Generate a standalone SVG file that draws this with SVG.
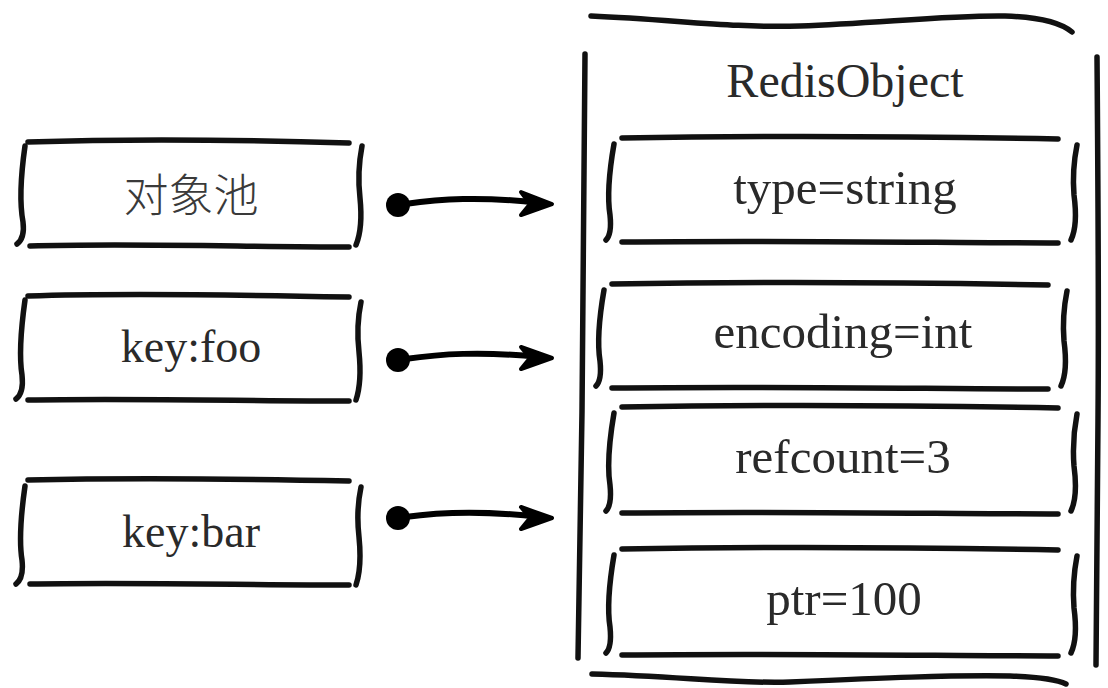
<svg xmlns="http://www.w3.org/2000/svg" width="1108" height="688" viewBox="0 0 1108 688">
<style>
.ln{fill:none;stroke:#111;stroke-width:5.5;stroke-linecap:round;stroke-linejoin:round}
.ar{fill:none;stroke:#000;stroke-width:6;stroke-linecap:round;stroke-linejoin:round}
.hd{fill:#000;stroke:#000;stroke-width:4;stroke-linejoin:round}
.t{font-family:"Liberation Serif","Noto Sans CJK SC",serif;fill:#2a2a2a;text-anchor:middle}
.cn{font-family:"Noto Sans CJK SC",sans-serif;fill:#3a3a3a;text-anchor:middle;font-weight:300}
.dot{fill:#000}
</style>
<rect width="1108" height="688" fill="#fff"/>
<g id="node-pool">
<path class="ln" d="M28,142 C120,139 250,140 349,143"/>
<path class="ln" d="M30,246 C130,243 250,247 349,247"/>
<path class="ln" d="M25,146 Q18,195 23,222 Q25,238 17,244"/>
<path class="ln" d="M362,146 Q357,172 360,198 Q363,228 356,245"/>
<text class="cn" x="191" y="212" font-size="45">对象池</text>
</g>
<g id="node-foo">
<path class="ln" d="M28,296 C120,293 250,295 349,297"/>
<path class="ln" d="M28,400 C130,398 250,401 349,401"/>
<path class="ln" d="M25,300 Q18,350 22,375 Q24,393 16,399"/>
<path class="ln" d="M361,302 Q356,326 359,352 Q362,382 356,400"/>
<text class="t" x="191" y="362" font-size="46">key:foo</text>
</g>
<g id="node-bar">
<path class="ln" d="M28,480 C120,478 250,479 349,481"/>
<path class="ln" d="M30,584 C130,582 250,585 349,585"/>
<path class="ln" d="M25,486 Q18,535 22,560 Q24,578 16,584"/>
<path class="ln" d="M361,487 Q356,511 359,537 Q362,567 356,585"/>
<text class="t" x="191" y="547" font-size="46">key:bar</text>
</g>
<g id="node-redisobject">
<path class="ln" d="M591,16 C680,20 730,28 800,26 C880,23 950,15 1005,16 C1040,17 1060,22 1072,32"/>
<path class="ln" d="M592,674 C680,676 730,684 790,682 C880,678 950,675 1010,676 C1040,677 1058,680 1066,684"/>
<path class="ln" d="M585,54 Q583,300 582,412 Q580,550 578,658"/>
<path class="ln" d="M1097,57 Q1099,300 1098,420 Q1097,560 1096,665"/>
<text class="t" x="845" y="97" font-size="48">RedisObject</text>
</g>
<g id="node-type">
<path class="ln" d="M622,138 C800,135 950,137 1058,139"/>
<path class="ln" d="M622,242 C800,240 950,243 1058,243"/>
<path class="ln" d="M614,144 Q606,190 610,215 Q612,234 606,240"/>
<path class="ln" d="M1077,145 Q1072,170 1074,195 Q1078,225 1071,240"/>
<text class="t" x="845" y="204" font-size="49">type=string</text>
</g>
<g id="node-encoding">
<path class="ln" d="M612,284 C790,281 940,283 1048,285"/>
<path class="ln" d="M612,388 C790,386 940,389 1048,389"/>
<path class="ln" d="M604,290 Q596,336 600,361 Q602,380 596,386"/>
<path class="ln" d="M1067,291 Q1062,316 1064,341 Q1068,371 1061,386"/>
<text class="t" x="843" y="348" font-size="49">encoding=int</text>
</g>
<g id="node-refcount">
<path class="ln" d="M622,407 C800,404 950,406 1058,408"/>
<path class="ln" d="M622,513 C800,511 950,514 1058,514"/>
<path class="ln" d="M614,413 Q606,460 610,485 Q612,505 606,511"/>
<path class="ln" d="M1077,414 Q1072,440 1074,466 Q1078,496 1071,511"/>
<text class="t" x="843" y="473" font-size="49">refcount=3</text>
</g>
<g id="node-ptr">
<path class="ln" d="M622,549 C800,546 950,548 1058,550"/>
<path class="ln" d="M622,655 C800,653 950,656 1058,656"/>
<path class="ln" d="M614,555 Q606,602 610,627 Q612,647 606,653"/>
<path class="ln" d="M1077,556 Q1072,582 1074,608 Q1078,638 1071,653"/>
<text class="t" x="844" y="615" font-size="49">ptr=100</text>
</g>
<g id="connectors">
<circle class="dot" cx="398" cy="205" r="12"/>
<path class="ar" d="M405,204 C440,199 480,196 540,203"/>
<path class="hd" d="M521,192 L552,204 L521,215 L530,204 Z"/>
<circle class="dot" cx="398" cy="360" r="12"/>
<path class="ar" d="M405,359 C440,354 480,351 540,357"/>
<path class="hd" d="M521,347 L552,358 L521,369 L530,358 Z"/>
<circle class="dot" cx="398" cy="518" r="12"/>
<path class="ar" d="M405,517 C440,512 480,510 540,517"/>
<path class="hd" d="M521,507 L552,518 L521,529 L530,518 Z"/>
</g>
</svg>
